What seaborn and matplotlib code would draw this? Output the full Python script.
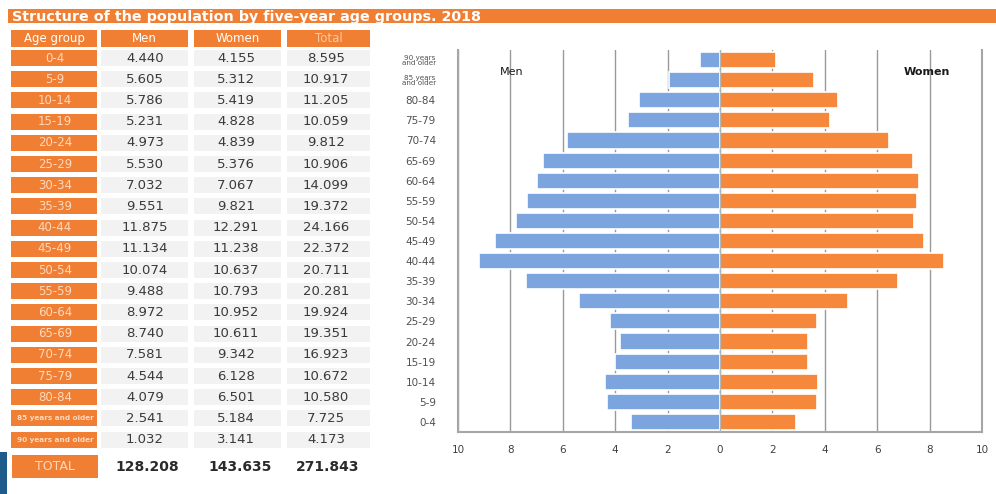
import matplotlib
matplotlib.use("Agg")
import matplotlib.pyplot as plt
import seaborn as sns
import pandas as pd
from matplotlib.patches import Rectangle

# ---------------- data ----------------
title = "Structure of the population by five-year age groups. 2018"
header = ["Age group", "Men", "Women", "Total"]
table_groups = ["0-4", "5-9", "10-14", "15-19", "20-24", "25-29", "30-34", "35-39",
                "40-44", "45-49", "50-54", "55-59", "60-64", "65-69", "70-74",
                "75-79", "80-84", "85 years and older", "90 years and older"]
table_men = [4.440, 5.605, 5.786, 5.231, 4.973, 5.530, 7.032, 9.551, 11.875, 11.134,
             10.074, 9.488, 8.972, 8.740, 7.581, 4.544, 4.079, 2.541, 1.032]
table_women = [4.155, 5.312, 5.419, 4.828, 4.839, 5.376, 7.067, 9.821, 12.291, 11.238,
               10.637, 10.793, 10.952, 10.611, 9.342, 6.128, 6.501, 5.184, 3.141]
table_total = [8.595, 10.917, 11.205, 10.059, 9.812, 10.906, 14.099, 19.372, 24.166,
               22.372, 20.711, 20.281, 19.924, 19.351, 16.923, 10.672, 10.580, 7.725, 4.173]
total_label = "TOTAL"
total_values = [128.208, 143.635, 271.843]

pyr_groups = ["90 years\nand older", "85 years\nand older", "80-84", "75-79", "70-74",
              "65-69", "60-64", "55-59", "50-54", "45-49", "40-44", "35-39", "30-34",
              "25-29", "20-24", "15-19", "10-14", "5-9", "0-4"]
men_pct = [0.75, 1.95, 3.1, 3.5, 5.85, 6.75, 7.0, 7.35, 7.8, 8.6, 9.2, 7.4, 5.4,
           4.2, 3.8, 4.0, 4.4, 4.3, 3.4]
women_pct = [2.15, 3.6, 4.5, 4.2, 6.45, 7.35, 7.6, 7.5, 7.4, 7.8, 8.55, 6.8, 4.9,
             3.7, 3.35, 3.35, 3.75, 3.7, 2.9]
x_ticks = [-10, -8, -6, -4, -2, 0, 2, 4, 6, 8, 10]

# ---------------- style ----------------
sns.set_style("white")
plt.rcParams["font.family"] = ["DejaVu Sans"]

ORANGE = "#F07F33"
BAR_ORANGE = "#F5883A"
BLUE = "#7CA4DF"
CELL = "#F2F2F2"
TXT = "#3A3A3A"
PEACH = "#FCD9C0"
GRID = "#999999"

fig = plt.figure(figsize=(9.96, 4.94), dpi=100)
fig.patch.set_facecolor("white")

# overlay axis in pixel coordinates for the title band and table
bg = fig.add_axes([0, 0, 1, 1])
bg.set_xlim(0, 996)
bg.set_ylim(494, 0)
bg.axis("off")

bg.add_patch(Rectangle((8, 9), 988, 14, color=ORANGE, lw=0))
bg.text(12, 16.5, title, color="white", fontsize=10.3, fontweight="bold",
        va="center", ha="left")

col_x = [(11, 97), (101, 188), (194, 281), (287, 370)]
# header
for i, (x0, x1) in enumerate(col_x):
    bg.add_patch(Rectangle((x0, 30), x1 - x0, 17, color=ORANGE, lw=0))
    tc = "#FAC9A4" if i == 3 else "white"
    bg.text((x0 + x1) / 2, 38.5, header[i], color=tc, fontsize=8.5,
            ha="center", va="center")

text_x = [55, 145, 236, 326]
row_h = 21.2
for r, g in enumerate(table_groups):
    yc = 58 + r * row_h
    for i, (x0, x1) in enumerate(col_x):
        col = ORANGE if i == 0 else CELL
        bg.add_patch(Rectangle((x0, yc - 8), x1 - x0, 16, color=col, lw=0))
    fs = 5.2 if len(g) > 6 else 8.5
    bg.text(text_x[0], yc, g, color=PEACH, fontsize=fs, ha="center", va="center",
            fontweight="bold" if len(g) > 6 else "normal")
    for i, vals in enumerate([table_men, table_women, table_total], start=1):
        bg.text(text_x[i], yc, f"{vals[r]:.3f}", color=TXT, fontsize=9.5,
                ha="center", va="center")

# total row
bg.add_patch(Rectangle((12, 455), 86, 23, color=ORANGE, lw=0))
bg.text(55, 466.5, total_label, color=PEACH, fontsize=9, ha="center", va="center")
for i, v in enumerate(total_values):
    bg.text([147, 240, 328][i], 466.5, f"{v:.3f}", color="#2a2a2a", fontsize=10,
            fontweight="bold", ha="center", va="center")

# decorative corner
bg.add_patch(Rectangle((0, 452), 7, 42, color="#1F5B8A", lw=0))

# ---------------- pyramid ----------------
ax = fig.add_axes([458 / 996, (494 - 432) / 494, (982 - 458) / 996, (432 - 50) / 494])
ax.set_facecolor("none")

df = pd.DataFrame({
    "group": pyr_groups * 2,
    "sex": ["Men"] * len(pyr_groups) + ["Women"] * len(pyr_groups),
    "value": [-v for v in men_pct] + list(women_pct),
})
sns.barplot(data=df, y="group", x="value", hue="sex", order=pyr_groups,
            palette={"Men": BLUE, "Women": BAR_ORANGE}, dodge=False, width=0.8,
            saturation=1, edgecolor="white", linewidth=1.2, legend=False,
            ax=ax, zorder=2)

ax.set_xlim(-10, 10)
ax.set_xticks(x_ticks)
ax.set_xticklabels([str(abs(t)) for t in x_ticks])
ax.grid(axis="x", color=GRID, lw=1)
ax.grid(axis="y", visible=False)
ax.set_axisbelow(True)
ax.axvline(0, color="#B5B5B5", lw=1, zorder=3)
ax.set_xlabel("")
ax.set_ylabel("")
for s in ["left", "right", "bottom"]:
    ax.spines[s].set_visible(True)
    ax.spines[s].set_color("#A6A6A6")
    ax.spines[s].set_linewidth(1.5)
ax.spines["top"].set_visible(False)
ax.tick_params(axis="x", length=0, pad=9, labelsize=7.5, labelcolor="#404040")
ax.tick_params(axis="y", length=0, pad=16, labelsize=7.5, labelcolor="#505050")
for i, lab in enumerate(ax.get_yticklabels()):
    if "\n" in lab.get_text():
        lab.set_fontsize(5.2)
        lab.set_linespacing(0.8)

ax.text(-7.95, 0.6, "Men", fontsize=8, color="#1a1a1a", ha="center", va="center")
ax.text(7.9, 0.6, "Women", fontsize=8, fontweight="bold", color="#1a1a1a",
        ha="center", va="center")

fig.savefig("out.png", dpi=100, facecolor="white")
